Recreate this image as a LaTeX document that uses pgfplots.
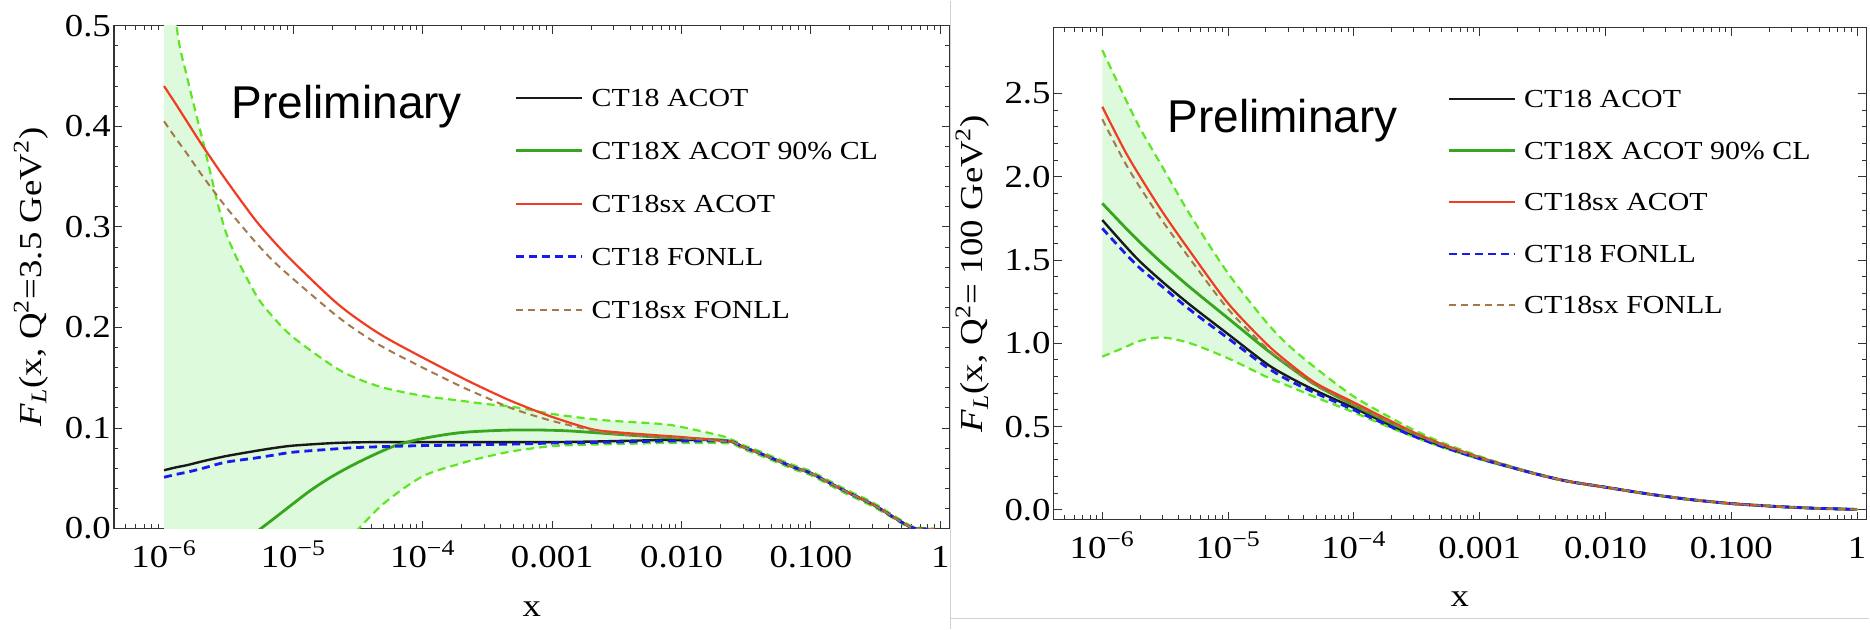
\documentclass[border=0pt]{standalone}
\usepackage{fontspec}
\setmainfont{Liberation Serif}[FakeStretch=1.15]
\newfontfamily\prelimfont{Liberation Sans}
\usepackage{pgfplots}
\usepackage{pgfplotstable}
\pgfplotsset{compat=1.18}
\usepgfplotslibrary{fillbetween}

\definecolor{ctblack}{RGB}{25,25,25}
\definecolor{ctgreen}{RGB}{55,165,30}
\definecolor{ctband}{RGB}{95,230,35}
\definecolor{ctfill}{RGB}{222,250,220}
\definecolor{ctred}{RGB}{240,60,35}
\definecolor{ctblue}{RGB}{25,25,240}
\definecolor{ctbrown}{RGB}{165,120,75}

% Q^2 = 3.5 GeV^2
\pgfplotstableread{
x        blk    blu    red    brn    up     lo
1e-6     0.058  0.051  0.440  0.405  0.640 -0.600
1.25e-6  0.061  0.054  0.421  0.387  0.500 -0.560
1.5e-6   0.063  0.056  0.405  0.373  0.450 -0.500
2e-6     0.067  0.060  0.380  0.350  0.385 -0.400
3e-6     0.072  0.066  0.347  0.320  0.295 -0.300
5e-6     0.077  0.070  0.308  0.286  0.235 -0.200
7e-6     0.080  0.073  0.286  0.266  0.210 -0.150
1e-5     0.0825 0.076  0.265  0.248  0.190 -0.100
2e-5     0.085  0.079  0.228  0.215  0.162 -0.030
3e-5     0.0857 0.0805 0.210  0.198  0.150 -0.004
5e-5     0.086  0.0815 0.191  0.180  0.140  0.025
1e-4     0.086  0.0825 0.170  0.160  0.132  0.052
2e-4     0.086  0.083  0.150  0.141  0.127  0.065
3e-4     0.086  0.0835 0.139  0.131  0.124  0.071
5e-4     0.086  0.084  0.126  0.119  0.121  0.077
1e-3     0.086  0.085  0.111  0.107  0.114  0.082
2e-3     0.0865 0.0855 0.099  0.098  0.109  0.0835
3e-3     0.087  0.086  0.096  0.094  0.107  0.084
7e-3     0.088  0.087  0.0924 0.091  0.104  0.085
1e-2     0.088  0.087  0.091  0.090  0.101  0.085
2e-2     0.088  0.087  0.0875 0.087  0.0924 0.085
2.5e-2   0.086  0.086  0.086  0.086  0.088  0.084
3e-2     0.081  0.081  0.081  0.081  0.083  0.079
4e-2     0.075  0.075  0.075  0.075  0.077  0.073
7.36e-2  0.061  0.061  0.061  0.061  0.063  0.059
0.1      0.055  0.055  0.055  0.055  0.057  0.053
0.179    0.038  0.038  0.038  0.038  0.040  0.036
0.3      0.024  0.024  0.024  0.024  0.026  0.022
0.435    0.0113 0.0113 0.0113 0.0113 0.013  0.010
0.586    0.0014 0.0014 0.0014 0.0014 0.003  0.000
0.65     0.000  0.000  0.000  0.000  0.001 -0.001
0.9     -0.001 -0.001 -0.001 -0.001  0.000 -0.002
}\lowQ

\pgfplotstableread{
x        grn
5e-6    -0.005
5.6e-6   0.000
7e-6     0.0095
1e-5     0.025
1.36e-5  0.038
2e-5     0.052
3.3e-5   0.067
6e-5     0.082
1e-4     0.0895
2e-4     0.0955
5e-4     0.098
1.2e-3   0.0974
3e-3     0.094
7e-3     0.0907
1e-2     0.090
2e-2     0.088
2.5e-2   0.086
3e-2     0.081
4e-2     0.075
7.36e-2  0.061
0.1      0.055
0.179    0.038
0.3      0.024
0.435    0.0113
0.586    0.0014
0.65     0.000
0.9     -0.001
}\lowQgrn

% Q^2 = 100 GeV^2
\pgfplotstableread{
x      blk    blu    red    brn    up     lo     grn
1e-6   1.740  1.690  2.420  2.345  2.760  0.920  1.840
1.5e-6 1.590  1.545  2.160  2.090  2.480  0.975  1.700
2e-6   1.490  1.450  2.000  1.935  2.290  1.015  1.605
3e-6   1.370  1.340  1.790  1.735  2.060  1.035  1.480
5e-6   1.230  1.200  1.550  1.505  1.770  1.000  1.335
1e-5   1.055  1.030  1.240  1.205  1.420  0.910  1.150
2e-5   0.880  0.860  1.000  0.975  1.130  0.800  0.965
3e-5   0.800  0.780  0.885  0.865  0.990  0.745  0.865
5e-5   0.715  0.700  0.760  0.745  0.850  0.675  0.750
1e-4   0.612  0.600  0.645  0.630  0.680  0.585  0.628
2e-4   0.505  0.497  0.530  0.520  0.550  0.490  0.518
3e-4   0.450  0.442  0.465  0.457  0.480  0.438  0.458
5e-4   0.385  0.380  0.395  0.390  0.405  0.377  0.392
1e-3   0.310  0.307  0.315  0.312  0.322  0.304  0.314
2e-3   0.245  0.245  0.245  0.245  0.249  0.242  0.247
3e-3   0.210  0.210  0.210  0.210  0.213  0.208  0.211
5e-3   0.172  0.172  0.172  0.172  0.174  0.170  0.172
1e-2   0.136  0.136  0.136  0.136  0.138  0.134  0.136
2e-2   0.100  0.100  0.100  0.100  0.102  0.098  0.100
3e-2   0.081  0.081  0.081  0.081  0.083  0.079  0.081
5e-2   0.060  0.060  0.060  0.060  0.062  0.058  0.060
0.1    0.038  0.038  0.038  0.038  0.039  0.037  0.038
0.2    0.023  0.023  0.023  0.023  0.024  0.022  0.023
0.3    0.016  0.016  0.016  0.016  0.017  0.015  0.016
0.5    0.009  0.009  0.009  0.009  0.010  0.008  0.009
1      0.003  0.003  0.003  0.003  0.004  0.002  0.003
}\highQ

\pgfplotsset{
  sblk/.style={ctblack, line width=1.2pt, smooth},
  sgrn/.style={ctgreen, line width=1.4pt, smooth},
  sred/.style={ctred, line width=1.1pt, smooth},
  sblu/.style={ctblue, line width=1.4pt, dash pattern=on 4pt off 2.5pt, smooth},
  sbrn/.style={ctbrown, line width=1.0pt, dash pattern=on 3.5pt off 2.5pt, smooth},
  sband/.style={ctband, line width=1.1pt, dash pattern=on 4pt off 2.5pt, smooth},
}

\begin{document}
\begin{tikzpicture}
\begin{axis}[
  scale only axis, xmode=log,
  at={(57pt,50pt)}, anchor=south west, width=418pt, height=251.5pt,
  xmin=4.1e-7, xmax=1.18,
  xtick={1e-6,1e-5,1e-4,1e-3,1e-2,1e-1,1},
  xticklabels={10\textsuperscript{−6},10\textsuperscript{−5},10\textsuperscript{−4},0.001,0.010,0.100,1},
  minor xtick={5e-7,6e-7,7e-7,8e-7,9e-7,
      2e-6,3e-6,4e-6,5e-6,6e-6,7e-6,8e-6,9e-6,
      2e-5,3e-5,4e-5,5e-5,6e-5,7e-5,8e-5,9e-5,
      2e-4,3e-4,4e-4,5e-4,6e-4,7e-4,8e-4,9e-4,
      2e-3,3e-3,4e-3,5e-3,6e-3,7e-3,8e-3,9e-3,
      2e-2,3e-2,4e-2,5e-2,6e-2,7e-2,8e-2,9e-2,
      0.2,0.3,0.4,0.5,0.6,0.7,0.8,0.9},
  ymin=0, ymax=0.5, ytick={0,0.1,0.2,0.3,0.4,0.5},
  minor y tick num=4,
  tick align=inside,
  major tick length=4pt, minor tick length=2.2pt,
  tick style={black!80, line width=0.5pt},
  axis line style={black!80, line width=0.6pt},
  tick label style={font=\fontsize{16}{18}\selectfont},
  xticklabel style={inner sep=1pt, text height=18.3pt, anchor=north},
  yticklabel style={xshift=2pt},
  /pgf/number format/fixed, /pgf/number format/fixed zerofill,
  /pgf/number format/precision=1, /pgf/number format/assume math mode=true,
  label style={font=\fontsize{16}{18}\selectfont},
  xlabel={x}, xlabel style={at={(axis description cs:0.5,-0.161)}, anchor=center},
  ylabel={\textit{F}\textsubscript{\textit{L}}(x, Q\textsuperscript{2}=3.5 GeV\textsuperscript{2})},
  ylabel style={at={(axis description cs:-0.0993,0.5)}, anchor=center},
  legend cell align=left,
  legend style={draw=none, fill=none, inner sep=0pt, outer sep=0pt,
    font=\fontsize{13}{15}\selectfont, anchor=north west,
    nodes={inner sep=2pt, text height=9.5pt, text depth=3pt},
    at={(axis description cs:0.4797,0.8857)}, row sep=10pt},
  legend image code/.code={\draw[#1] (0pt,1pt) -- (33pt,1pt); \path (35pt,1pt);},
]
\addplot[draw=none, smooth, forget plot, name path=upA] table[x=x, y=up] {\lowQ};
\addplot[draw=none, smooth, forget plot, name path=loA] table[x=x, y=lo] {\lowQ};
\addplot[ctfill, forget plot] fill between[of=upA and loA];
\addplot[sband, forget plot] table[x=x, y=up] {\lowQ};
\addplot[sband, forget plot] table[x=x, y=lo] {\lowQ};
\addplot[sblk] table[x=x, y=blk] {\lowQ};
\addlegendentry{CT18 ACOT}
\addplot[sgrn] table[x=x, y=grn] {\lowQgrn};
\addlegendentry{CT18X ACOT 90\% CL}
\addplot[sred] table[x=x, y=red] {\lowQ};
\addlegendentry{CT18sx ACOT}
\addplot[sblu] table[x=x, y=blu] {\lowQ};
\addlegendentry{CT18 FONLL}
\addplot[sbrn] table[x=x, y=brn] {\lowQ};
\addlegendentry{CT18sx FONLL}
\node[anchor=base west, font=\prelimfont\fontsize{23}{26}\selectfont] at (rel axis cs:0.1328,0.815) {Preliminary};
\end{axis}

\begin{axis}[
  scale only axis, xmode=log,
  at={(527pt,54.5pt)}, anchor=south west, width=406.5pt, height=246pt,
  xmin=4.1e-7, xmax=1.18,
  xtick={1e-6,1e-5,1e-4,1e-3,1e-2,1e-1,1},
  xticklabels={10\textsuperscript{−6},10\textsuperscript{−5},10\textsuperscript{−4},0.001,0.010,0.100,1},
  minor xtick={5e-7,6e-7,7e-7,8e-7,9e-7,
      2e-6,3e-6,4e-6,5e-6,6e-6,7e-6,8e-6,9e-6,
      2e-5,3e-5,4e-5,5e-5,6e-5,7e-5,8e-5,9e-5,
      2e-4,3e-4,4e-4,5e-4,6e-4,7e-4,8e-4,9e-4,
      2e-3,3e-3,4e-3,5e-3,6e-3,7e-3,8e-3,9e-3,
      2e-2,3e-2,4e-2,5e-2,6e-2,7e-2,8e-2,9e-2,
      0.2,0.3,0.4,0.5,0.6,0.7,0.8,0.9},
  ymin=-0.058, ymax=2.894, ytick={0,0.5,1,1.5,2,2.5},
  minor y tick num=4,
  tick align=inside,
  major tick length=4pt, minor tick length=2.2pt,
  tick style={black!80, line width=0.5pt},
  axis line style={black!80, line width=0.6pt},
  tick label style={font=\fontsize{16}{18}\selectfont},
  xticklabel style={inner sep=1pt, text height=18.3pt, anchor=north},
  yticklabel style={xshift=2pt},
  /pgf/number format/fixed, /pgf/number format/fixed zerofill,
  /pgf/number format/precision=1, /pgf/number format/assume math mode=true,
  label style={font=\fontsize{16}{18}\selectfont},
  xlabel={x}, xlabel style={at={(axis description cs:0.5,-0.1626)}, anchor=center},
  ylabel={\textit{F}\textsubscript{\textit{L}}(x, Q\textsuperscript{2}= 100 GeV\textsuperscript{2})},
  ylabel style={at={(axis description cs:-0.0996,0.5)}, anchor=center},
  legend cell align=left,
  legend style={draw=none, fill=none, inner sep=0pt, outer sep=0pt,
    font=\fontsize{13}{15}\selectfont, anchor=north west,
    nodes={inner sep=2pt, text height=9.5pt, text depth=3pt},
    at={(axis description cs:0.4846,0.8843)}, row sep=9.3pt},
  legend image code/.code={\draw[#1] (0pt,1pt) -- (33pt,1pt); \path (35pt,1pt);},
]
\addplot[draw=none, smooth, forget plot, name path=upB] table[x=x, y=up] {\highQ};
\addplot[draw=none, smooth, forget plot, name path=loB] table[x=x, y=lo] {\highQ};
\addplot[ctfill, forget plot] fill between[of=upB and loB];
\addplot[sband, forget plot] table[x=x, y=up] {\highQ};
\addplot[sband, forget plot] table[x=x, y=lo] {\highQ};
\addplot[sblk] table[x=x, y=blk] {\highQ};
\addlegendentry{CT18 ACOT}
\addplot[sgrn] table[x=x, y=grn] {\highQ};
\addlegendentry{CT18X ACOT 90\% CL}
\addplot[sred] table[x=x, y=red] {\highQ};
\addlegendentry{CT18sx ACOT}
\addplot[sblu] table[x=x, y=blu] {\highQ};
\addlegendentry{CT18 FONLL}
\addplot[sbrn] table[x=x, y=brn] {\highQ};
\addlegendentry{CT18sx FONLL}
\node[anchor=base west, font=\prelimfont\fontsize{23}{26}\selectfont] at (rel axis cs:0.1316,0.787) {Preliminary};
\end{axis}

\draw[black!18, line width=0.8pt] (475.5pt,0pt) -- (475.5pt,314pt);
\draw[black!18, line width=0.8pt] (475.5pt,5pt) -- (935pt,5pt);
\path (0pt,0pt) rectangle (935pt,314pt);
\end{tikzpicture}
\end{document}
